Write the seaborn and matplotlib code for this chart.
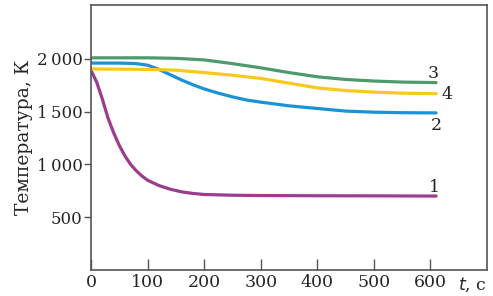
import matplotlib
matplotlib.use("Agg")
import matplotlib.pyplot as plt
import seaborn as sns
import pandas as pd

# Data
t1 = [0, 10, 20, 30, 40, 50, 60, 70, 80, 90, 100, 120, 140, 160, 180, 200, 250, 300, 400, 500, 610]
T1 = [1890, 1780, 1620, 1440, 1300, 1180, 1080, 1000, 940, 890, 850, 800, 765, 740, 725, 715, 708, 705, 703, 702, 700]

t2 = [0, 50, 80, 100, 120, 140, 160, 180, 200, 225, 250, 275, 300, 350, 400, 450, 500, 550, 610]
T2 = [1960, 1960, 1955, 1940, 1900, 1850, 1800, 1755, 1715, 1675, 1640, 1610, 1590, 1555, 1530, 1505, 1495, 1490, 1488]

t3 = [0, 100, 150, 200, 250, 300, 350, 400, 450, 500, 550, 610]
T3 = [2010, 2010, 2005, 1990, 1955, 1915, 1870, 1830, 1805, 1790, 1780, 1775]

t4 = [0, 100, 150, 200, 250, 300, 350, 400, 450, 500, 550, 610]
T4 = [1905, 1900, 1893, 1870, 1845, 1815, 1770, 1725, 1700, 1685, 1675, 1670]

curve_labels = ["1", "2", "3", "4"]
x_ticks = [0, 100, 200, 300, 400, 500, 600]
y_ticks = [500, 1000, 1500, 2000]
y_tick_labels = ["500", "1\u2009000", "1\u2009500", "2\u2009000"]

colors = {"1": "#9c3c8c", "2": "#1a93d6", "3": "#4f9a6c", "4": "#f8c81c"}

frames = []
for lab, t, T in zip(curve_labels, [t1, t2, t3, t4], [T1, T2, T3, T4]):
    frames.append(pd.DataFrame({"t": t, "T": T, "curve": lab}))
df = pd.concat(frames, ignore_index=True)

sns.set_style("white")
plt.rcParams["font.family"] = ["DejaVu Serif"]

fig = plt.figure(figsize=(4.93, 2.96), dpi=100)
ax = fig.add_axes([0.1846, 0.088, 0.8032, 0.895])

sns.lineplot(data=df, x="t", y="T", hue="curve", palette=colors, linewidth=2.3,
             legend=False, ax=ax, sort=False)

ax.set_xlim(0, 700)
ax.set_ylim(0, 2510)
ax.set_xticks(x_ticks)
ax.set_xticklabels([str(v) for v in x_ticks])
ax.set_yticks(y_ticks)
ax.set_yticklabels(y_tick_labels)
ax.set_xlabel("")
ax.set_ylabel("Температура, К", fontsize=13.5, labelpad=3)

ax.tick_params(axis="x", direction="in", length=8, width=1, color="#555555",
               labelsize=12.5, pad=3)
ax.tick_params(axis="y", direction="out", length=5, width=1, color="#555555",
               labelsize=12, pad=1)
ax.xaxis.set_ticks_position("bottom")
ax.yaxis.set_ticks_position("left")
for s in ax.spines.values():
    s.set_color("#555555")
    s.set_linewidth(1.2)

# curve labels
label_pos = {"1": (598, 780), "2": (601, 1370), "3": (595, 1860), "4": (619, 1665)}
for lab, (x, y) in label_pos.items():
    ax.text(x, y, lab, fontsize=12.5, ha="left", va="center")

ax.text(648, -140, "$t$, c", fontsize=12.5, ha="left", va="center")

fig.savefig("out.png", dpi=100)
